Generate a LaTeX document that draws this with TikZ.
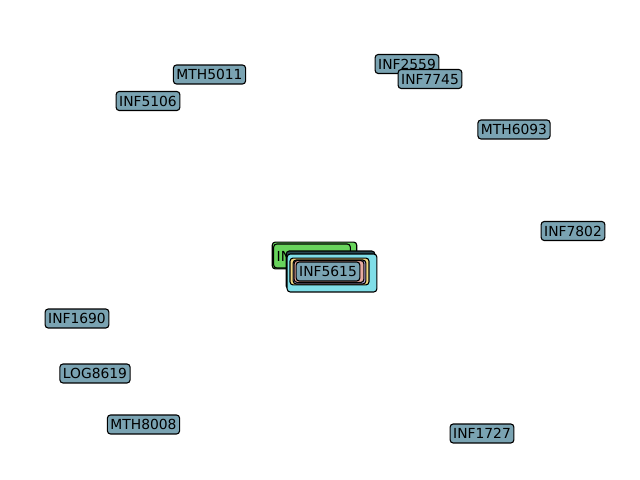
\documentclass[tikz,border=0pt]{standalone}
\usepackage{fontspec}
\setmainfont{DejaVu Sans}
\definecolor{nodeblue}{RGB}{122,163,178}
\definecolor{ngreen}{RGB}{104,212,92}
\definecolor{ncyan}{RGB}{128,222,232}
\definecolor{nyellow}{RGB}{240,214,128}
\definecolor{npink}{RGB}{232,170,160}
\definecolor{nlav}{RGB}{184,164,214}
\definecolor{ndark}{RGB}{40,70,80}
\tikzset{
  course/.style={draw=black, line width=0.8pt, fill=nodeblue, rounded corners=2.2pt,
    inner xsep=2.2pt, inner ysep=0pt, minimum height=13.7pt, text height=7.4pt, text depth=0pt,
    font=\fontsize{10pt}{12pt}\selectfont},
}
\begin{document}
\begin{tikzpicture}[x=0.01in, y=-0.01in]
\useasboundingbox (0,0) rectangle (640,480);
% background cluster
\node[course, fill=ngreen, minimum width=61pt, minimum height=19.4pt] (g1) at (314.5,255.5) {};
\node[course, fill=ngreen, text width=51pt, align=left, minimum height=17.3pt] (g2) at (312,256) {IN};
\node[course, fill=ndark, minimum width=64pt, minimum height=27.4pt] (d1) at (330.5,270) {};
\node[course, fill=ncyan, minimum width=64.8pt, minimum height=27.4pt] (c1) at (332,273) {};
\node[course, fill=nyellow, minimum width=57pt, minimum height=19.4pt] (y1) at (329.5,271.5) {};
\node[course, fill=nlav, minimum width=52.5pt, minimum height=17.3pt] (l1) at (329.5,272) {};
\node[course, fill=npink, minimum width=50.4pt, minimum height=15.8pt] (p1) at (329,271.5) {};
% labelled nodes
\node[course] (inf5615) at (328,271.5) {INF5615};
\node[course] (mth5011) at (209.5,74.5) {MTH5011};
\node[course] (inf2559) at (407,64) {INF2559};
\node[course] (inf7745) at (430,79) {INF7745};
\node[course] (inf5106) at (148,101) {INF5106};
\node[course] (mth6093) at (514,129.5) {MTH6093};
\node[course] (inf7802) at (573,231) {INF7802};
\node[course] (inf1690) at (77,318.5) {INF1690};
\node[course] (log8619) at (95,373.5) {LOG8619};
\node[course] (mth8008) at (143.5,424.5) {MTH8008};
\node[course] (inf1727) at (482,433.5) {INF1727};
\end{tikzpicture}
\end{document}
